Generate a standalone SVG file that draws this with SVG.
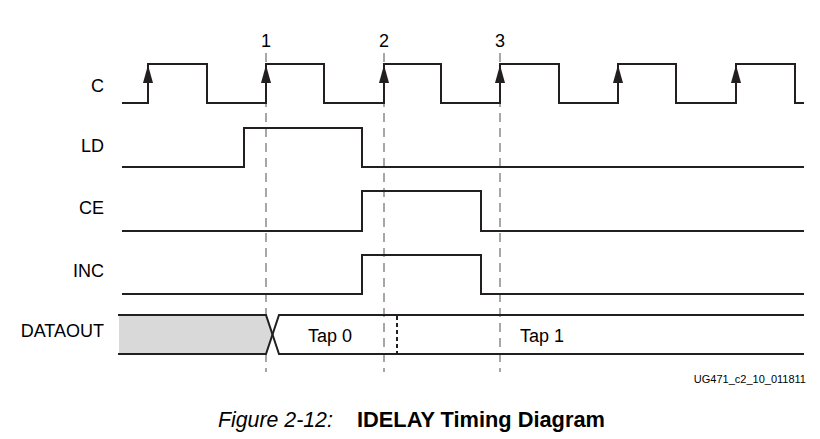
<svg xmlns="http://www.w3.org/2000/svg" width="820" height="439" viewBox="0 0 820 439">
<defs>
<style>
.bg{fill:#ffffff}
.sig{fill:none;stroke:#231f20;stroke-width:2;stroke-linejoin:miter;stroke-linecap:butt}
.ref{fill:none;stroke:#8a8a8a;stroke-width:1.5;stroke-dasharray:9,6}
.lbl{font-family:"Liberation Sans",Arial,sans-serif;font-size:18px;fill:#000}
.arr{fill:#231f20}
.tap{font-family:"Liberation Sans",Arial,sans-serif;font-size:18px;fill:#000}
</style>
</defs>
<rect class="bg" x="0" y="0" width="820" height="439"/>

<g id="connectors">
  <line class="ref" x1="266" y1="53" x2="266" y2="372"/>
  <line class="ref" x1="384" y1="53" x2="384" y2="372"/>
  <line class="ref" x1="500" y1="53" x2="500" y2="372"/>
  <text class="lbl" x="266" y="47" text-anchor="middle">1</text>
  <text class="lbl" x="384" y="47" text-anchor="middle">2</text>
  <text class="lbl" x="500" y="47" text-anchor="middle">3</text>
</g>

<g id="sig-C">
  <text class="lbl" x="104" y="92" text-anchor="end">C</text>
  <path class="sig" d="M122,103 H148 V64 H207 V103 H266 V64 H324 V103 H384 V64 H441 V103 H500 V64 H559 V103 H618 V64 H676 V103 H736 V64 H795 V103 H804"/>
  <polygon class="arr" points="148,65 143,83 153,83"/>
  <polygon class="arr" points="266,65 261,83 271,83"/>
  <polygon class="arr" points="384,65 379,83 389,83"/>
  <polygon class="arr" points="500,65 495,83 505,83"/>
  <polygon class="arr" points="618,65 613,83 623,83"/>
  <polygon class="arr" points="736,65 731,83 741,83"/>
</g>

<g id="sig-LD">
  <text class="lbl" x="104" y="152" text-anchor="end">LD</text>
  <path class="sig" d="M122,167 H244 V128 H362 V167 H804"/>
</g>

<g id="sig-CE">
  <text class="lbl" x="104" y="214" text-anchor="end">CE</text>
  <path class="sig" d="M122,231 H362 V191 H481 V231 H804"/>
</g>

<g id="sig-INC">
  <text class="lbl" x="104" y="277" text-anchor="end">INC</text>
  <path class="sig" d="M122,294 H362 V255 H481 V294 H804"/>
</g>

<g id="sig-DATAOUT">
  <text class="lbl" x="104" y="337" text-anchor="end">DATAOUT</text>
  <polygon points="119,315 266,315 272.5,334.5 266,354 119,354" fill="#d9d9da" stroke="none"/>
  <path class="sig" d="M118,315 H266 L279,354 H804"/>
  <path class="sig" d="M118,354 H266 L279,315 H804"/>
  <line x1="397" y1="316" x2="397" y2="354" stroke="#231f20" stroke-width="2" stroke-dasharray="4,3"/>
  <text class="tap" x="308" y="342">Tap 0</text>
  <text class="tap" x="520" y="342">Tap 1</text>
</g>

<g id="footer">
  <text x="806" y="383" text-anchor="end" font-family="Liberation Sans, Arial, sans-serif" font-size="11" fill="#000">UG471_c2_10_011811</text>
  <text x="218" y="427" font-family="Liberation Sans, Arial, sans-serif" font-size="21.3" font-style="italic" fill="#000">Figure 2-12:</text>
  <text x="357" y="427" font-family="Liberation Sans, Arial, sans-serif" font-size="21.8" font-weight="bold" fill="#000">IDELAY Timing Diagram</text>
</g>
</svg>
